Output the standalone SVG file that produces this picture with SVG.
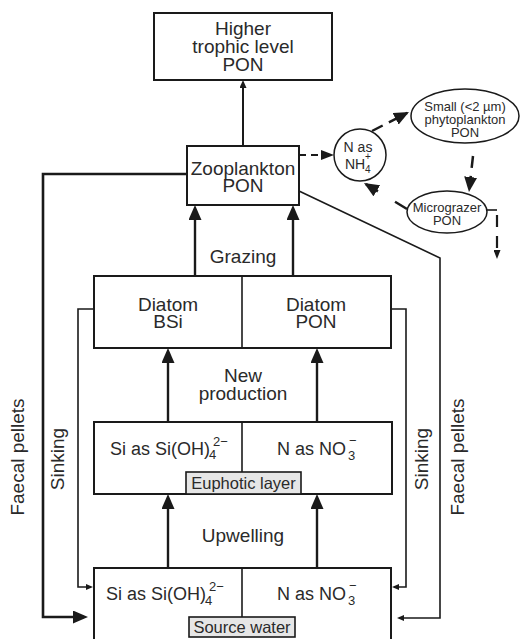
<svg xmlns="http://www.w3.org/2000/svg" width="520" height="639" viewBox="0 0 520 639">
<defs>
<style>
.box{fill:#fff;stroke:#1a1a1a;stroke-width:2}
.lbl{fill:#e6e6e6;stroke:#1a1a1a;stroke-width:1.6}
.div{stroke:#1a1a1a;stroke-width:1.6;fill:none}
text{font-family:"Liberation Sans",Arial,sans-serif;fill:#2a2a2a}
.t{font-size:19px;text-anchor:middle}
.f{font-size:18px}
.s{font-size:13px}
.sm{font-size:13px;text-anchor:middle}
.tag{font-size:16.5px;text-anchor:middle}
.thick{stroke:#1a1a1a;stroke-width:2.4;fill:none}
.thin{stroke:#1a1a1a;stroke-width:1.6;fill:none}
.dash{stroke:#1a1a1a;stroke-width:2.5;fill:none}
</style>
<marker id="big" markerUnits="userSpaceOnUse" viewBox="0 0 15 13" markerWidth="15" markerHeight="13" refX="11" refY="6.5" orient="auto"><path d="M0,0 L15,6.5 L0,13 z" fill="#1a1a1a"/></marker>
<marker id="sm" markerUnits="userSpaceOnUse" viewBox="0 0 8 7" markerWidth="8" markerHeight="7" refX="5" refY="3.5" orient="auto"><path d="M0,0 L8,3.5 L0,7 z" fill="#1a1a1a"/></marker>
<marker id="tiny" markerUnits="userSpaceOnUse" viewBox="0 0 7 6" markerWidth="7" markerHeight="6" refX="5" refY="3" orient="auto"><path d="M0,0 L7,3 L0,6 z" fill="#1a1a1a"/></marker>
<marker id="dbig" markerUnits="userSpaceOnUse" viewBox="0 0 15 13" markerWidth="15" markerHeight="13" refX="13" refY="6.5" orient="auto"><path d="M0,0 L15,6.5 L0,13 z" fill="#1a1a1a"/></marker>
<marker id="dsm" markerUnits="userSpaceOnUse" viewBox="0 0 13 10" markerWidth="13" markerHeight="10" refX="11" refY="5" orient="auto"><path d="M0,0 L13,5 L0,10 z" fill="#1a1a1a"/></marker>
<marker id="dtiny" markerUnits="userSpaceOnUse" viewBox="0 0 9 7" markerWidth="9" markerHeight="7" refX="7" refY="3.5" orient="auto"><path d="M0,0 L9,3.5 L0,7 z" fill="#1a1a1a"/></marker>
</defs>
<rect width="520" height="639" fill="#fff"/>

<g id="connectors">
<path class="thin" style="stroke-width:2" d="M243,146 V83" marker-end="url(#sm)"/>
<path class="thick" d="M195,276 V209" marker-end="url(#big)"/>
<path class="thick" d="M293,276 V209" marker-end="url(#big)"/>
<path class="thick" d="M168,422 V352" marker-end="url(#big)"/>
<path class="thick" d="M317,422 V352" marker-end="url(#big)"/>
<path class="thick" d="M168,568 V498" marker-end="url(#big)"/>
<path class="thick" d="M317,568 V498" marker-end="url(#big)"/>
<path class="thick" style="stroke-width:2.6" d="M187,174 H43 V617 H84" marker-end="url(#big)"/>
<path class="thin" d="M94,309 H78 V587 H91" marker-end="url(#tiny)"/>
<path class="thin" d="M391,309 H406 V587 H394" marker-end="url(#tiny)"/>
<path class="thin" d="M299,191 L440,258 V618 H399" marker-end="url(#tiny)"/>
<path class="dash" style="stroke-width:2.2" stroke-dasharray="7 5" d="M299,155 H332" marker-end="url(#dsm)"/>
<path class="dash" stroke-dasharray="12 7" d="M372,131 L407.2,112.9" marker-end="url(#dbig)"/>
<path class="dash" stroke-dasharray="12 8" d="M473,156 L469.2,190" marker-end="url(#dbig)"/>
<path class="dash" stroke-dasharray="14 20" d="M407,209 L365.7,184" marker-end="url(#dbig)"/>
<path class="thin" d="M487,210 H497"/>
<path class="dash" style="stroke-width:2.2" stroke-dasharray="12 9" d="M497,215 V257" marker-end="url(#dtiny)"/>
</g>

<g id="higher">
<rect class="box" x="154" y="13" width="178" height="67"/>
<text class="t" x="243" y="35">Higher</text>
<text class="t" x="243" y="53">trophic level</text>
<text class="t" x="243" y="71">PON</text>
</g>

<g id="zooplankton">
<rect class="box" x="187" y="146" width="112" height="59"/>
<text class="t" x="243" y="175">Zooplankton</text>
<text class="t" x="243" y="192">PON</text>
</g>

<g id="grazing-label">
<text class="t" x="243" y="263">Grazing</text>
</g>

<g id="diatom">
<rect class="box" x="94" y="276" width="297" height="72"/>
<line class="div" x1="242" y1="276" x2="242" y2="348"/>
<text class="t" x="168" y="311">Diatom</text>
<text class="t" x="168" y="328">BSi</text>
<text class="t" x="316" y="311">Diatom</text>
<text class="t" x="316" y="328">PON</text>
</g>

<g id="newprod-label">
<text class="t" x="243" y="382">New</text>
<text class="t" x="243" y="400">production</text>
</g>

<g id="euphotic">
<rect class="box" x="94" y="422" width="298" height="72"/>
<line class="div" x1="242" y1="422" x2="242" y2="472"/>
<text class="f" x="110" y="455">Si as Si(OH)</text>
<text class="s" x="209" y="459">4</text>
<text class="s" x="213" y="446">2−</text>
<text class="f" x="277" y="455">N as NO</text>
<text class="s" x="348" y="460">3</text>
<text class="s" x="349" y="445">−</text>
<rect class="lbl" x="186" y="472" width="115" height="22"/>
<text class="tag" x="243.5" y="489">Euphotic layer</text>
</g>

<g id="upwelling-label">
<text class="t" x="243" y="542">Upwelling</text>
</g>

<g id="source">
<rect class="box" x="94" y="568" width="297" height="80"/>
<line class="div" x1="242" y1="568" x2="242" y2="617"/>
<text class="f" x="106" y="600">Si as Si(OH)</text>
<text class="s" x="205" y="605">4</text>
<text class="s" x="209" y="591">2−</text>
<text class="f" x="277" y="600">N as NO</text>
<text class="s" x="348" y="605">3</text>
<text class="s" x="349" y="590">−</text>
<rect class="lbl" x="189" y="617" width="106" height="20"/>
<text class="tag" x="242" y="633">Source water</text>
</g>

<g id="nh4">
<circle cx="360" cy="155" r="26" fill="#fff" stroke="#1a1a1a" stroke-width="1.5"/>
<text class="sm" style="font-size:14px" x="358" y="152">N as</text>
<text style="font-size:14px" x="345" y="169">NH</text>
<text style="font-size:10px" x="365" y="160">+</text>
<text style="font-size:10px" x="365" y="173">4</text>
</g>

<g id="small-phyto">
<ellipse cx="465" cy="116" rx="54" ry="27" fill="#fff" stroke="#1a1a1a" stroke-width="1.5"/>
<text class="sm" x="465" y="111">Small (&lt;2 µm)</text>
<text class="sm" x="465" y="124">phytoplankton</text>
<text class="sm" x="465" y="137">PON</text>
</g>

<g id="micrograzer">
<ellipse cx="447" cy="212" rx="40" ry="21" fill="#fff" stroke="#1a1a1a" stroke-width="1.5"/>
<text class="sm" x="447" y="212">Micrograzer</text>
<text class="sm" x="447" y="225">PON</text>
</g>

<g id="side-labels">
<text class="t" transform="translate(24,457) rotate(-90)">Faecal pellets</text>
<text class="t" transform="translate(64,459) rotate(-90)">Sinking</text>
<text class="t" transform="translate(428,459) rotate(-90)">Sinking</text>
<text class="t" transform="translate(464,457) rotate(-90)">Faecal pellets</text>
</g>
</svg>
